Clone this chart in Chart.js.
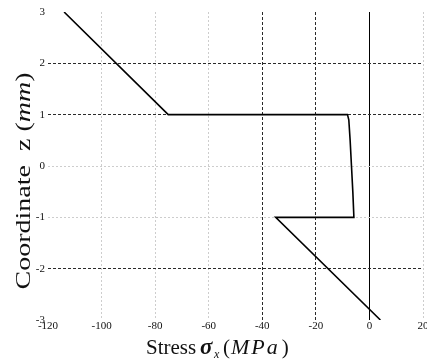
<!DOCTYPE html>
<html>
<head>
<meta charset="utf-8">
<script src="https://cdn.jsdelivr.net/npm/chart.js@4/dist/chart.umd.min.js"></script>
<style>
  html, body { margin: 0; padding: 0; background: #fff; overflow: hidden; }
  #wrap { width: 427px; height: 364px; }
</style>
</head>
<body>
<div id="wrap"><canvas id="c" width="427" height="364"></canvas></div>
<script>
// ---- data ----
const stressX = [-114, -75.1, -8.2, -7.7, -7.2, -6.7, -6.2, -5.8, -35.0, 4.1];
const coordZ  = [3, 1, 1, 0.9, 0.5, 0, -0.5, -1, -1, -3];
const xTicks = [-120, -100, -80, -60, -40, -20, 0, 20];
const zTicks = [-3, -2, -1, 0, 1, 2, 3];
const darkX = [-40, -20];
const lightX = [-100, -80, -60, 20];
const darkZ = [2, 1, -2];
const lightZ = [0, -1];

const SERIF = "'Liberation Serif', 'Times New Roman', serif";

const points = stressX.map((x, i) => ({ x: x, y: coordZ[i] }));

function gridColor(v, dark, light, solid) {
  if (solid !== undefined && v === solid) return '#000';
  if (dark.includes(v)) return '#2a2a2a';
  if (light.includes(v)) return '#cdcdcd';
  return 'rgba(0,0,0,0)';
}
function gridDash(v, dark, light, solid) {
  if (solid !== undefined && v === solid) return [];
  if (dark.includes(v)) return [3, 2];
  return [2, 2];
}

const titlePlugin = {
  id: 'titles',
  afterDraw(chart) {
    const ctx = chart.ctx;
    ctx.save();
    ctx.fillStyle = '#111';
    ctx.textBaseline = 'alphabetic';
    // ---- x title: Stress σx (MPa)
    const by = 354;
    const partsX = [
      { t: 'Stress', f: '21px ' + SERIF, x: 146, dy: 0 },
      { t: 'σ', f: 'italic bold 23px ' + SERIF, x: 200, dy: 0 },
      { t: 'x', f: 'italic 12px ' + SERIF, x: 214, dy: 4 },
      { t: '(', f: '21px ' + SERIF, x: 223, dy: 0 },
      { t: 'MPa', f: 'italic 22px ' + SERIF, x: 231, dy: 0, ls: '2px' },
      { t: ')', f: '21px ' + SERIF, x: 0, dy: 0 }
    ];
    let lastEnd = 0;
    partsX.forEach(p => {
      ctx.font = p.f;
      ctx.letterSpacing = p.ls || '0px';
      const px = p.x || (lastEnd + 2);
      ctx.fillText(p.t, px, by + p.dy);
      lastEnd = px + ctx.measureText(p.t).width;
    });
    ctx.letterSpacing = '0px';

    // ---- y title: Coordinate  z (mm), rotated, stretched along its length
    const partsY = [
      { t: 'Coordinate  z ', f: '20px ' + SERIF },
      { t: '(', f: '20px ' + SERIF },
      { t: 'mm', f: 'italic 20px ' + SERIF },
      { t: ')', f: '20px ' + SERIF }
    ];
    let wy = 0;
    partsY.forEach(p => { ctx.font = p.f; p.w = ctx.measureText(p.t).width; wy += p.w; });
    ctx.translate(30, 181);
    ctx.rotate(-Math.PI / 2);
    ctx.scale(1.4, 1);
    let xx = -wy / 2;
    partsY.forEach(p => { ctx.font = p.f; ctx.fillText(p.t, xx, 0); xx += p.w; });
    ctx.restore();
  }
};

new Chart(document.getElementById('c'), {
  type: 'scatter',
  data: {
    datasets: [{
      data: points,
      showLine: true,
      borderColor: '#000',
      backgroundColor: '#000',
      borderWidth: 1.6,
      pointRadius: 0,
      tension: 0,
      fill: false
    }]
  },
  options: {
    responsive: false,
    devicePixelRatio: 1,
    animation: false,
    layout: { padding: { left: 0, right: 4, top: 12, bottom: 0 } },
    plugins: { legend: { display: false }, tooltip: { enabled: false } },
    scales: {
      x: {
        type: 'linear',
        min: xTicks[0],
        max: xTicks[xTicks.length - 1],
        afterBuildTicks(scale) { scale.ticks = xTicks.map(v => ({ value: v })); },
        afterFit(scale) { scale.height = 44; scale.paddingLeft = 0; scale.paddingRight = 0; },
        ticks: {
          font: { family: SERIF, size: 11 },
          color: '#111',
          padding: 0,
          maxRotation: 0,
          autoSkip: false
        },
        grid: {
          drawTicks: false,
          lineWidth: 1,
          color: ctx => gridColor(ctx.tick ? ctx.tick.value : null, darkX, lightX, 0)
        },
        border: {
          display: false,
          dash: ctx => gridDash(ctx.tick ? ctx.tick.value : null, darkX, lightX, 0)
        },
        title: { display: false }
      },
      y: {
        type: 'linear',
        min: zTicks[0],
        max: zTicks[zTicks.length - 1],
        afterBuildTicks(scale) { scale.ticks = zTicks.map(v => ({ value: v })); },
        afterFit(scale) { scale.width = 48; scale.paddingTop = 0; scale.paddingBottom = 0; },
        ticks: {
          font: { family: SERIF, size: 11 },
          color: '#111',
          padding: 3,
          autoSkip: false
        },
        grid: {
          drawTicks: false,
          lineWidth: 1,
          color: ctx => gridColor(ctx.tick ? ctx.tick.value : null, darkZ, lightZ)
        },
        border: {
          display: false,
          dash: ctx => gridDash(ctx.tick ? ctx.tick.value : null, darkZ, lightZ)
        },
        title: { display: false }
      }
    }
  },
  plugins: [titlePlugin]
});
</script>
</body>
</html>
